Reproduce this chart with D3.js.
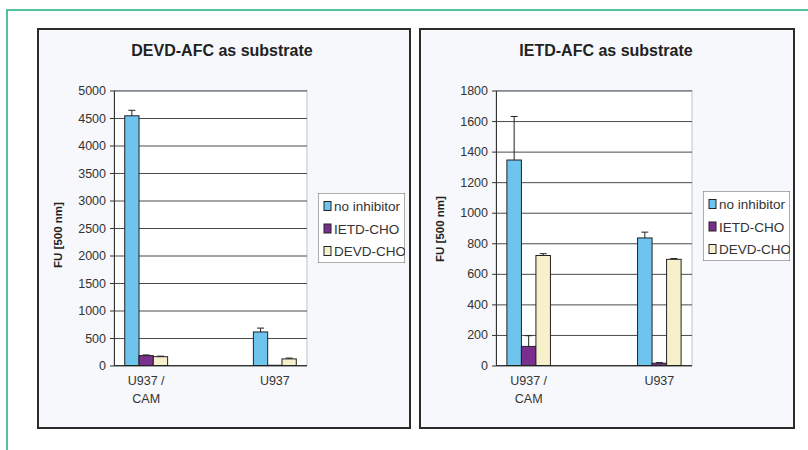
<!DOCTYPE html>
<html>
<head>
<meta charset="utf-8">
<script src="https://cdn.jsdelivr.net/npm/d3@7"></script>
<style>
  body { margin: 0; background: #fff; }
  svg { display: block; font-family: "Liberation Sans", Arial, sans-serif; }
</style>
</head>
<body>
<div id="chart"></div>
<script>
const categories = ["U937 / CAM", "U937"];
const seriesNames = ["no inhibitor", "IETD-CHO", "DEVD-CHO"];
const seriesColors = ["#6ec4ec", "#7a2e8e", "#f6f1cb"];

// DEVD-AFC panel, one row per series, one value per category
const devdValues = [[4540, 610], [180, 4], [160, 120]];
const devdErrors = [[100, 70], [12, 0], [10, 15]];
const devdTicks = [0, 500, 1000, 1500, 2000, 2500, 3000, 3500, 4000, 4500, 5000];

// IETD-AFC panel
const ietdValues = [[1345, 835], [125, 15], [720, 695]];
const ietdErrors = [[285, 38], [70, 4], [12, 5]];
const ietdTicks = [0, 200, 400, 600, 800, 1000, 1200, 1400, 1600, 1800];

const svg = d3.select("#chart").append("svg")
    .attr("width", 808)
    .attr("height", 450);

// green frame of the figure
svg.append("path")
    .attr("d", "M7,450 L7,10 L808,10")
    .attr("fill", "none")
    .attr("stroke", "#1fae7c")
    .attr("stroke-width", 1.5);

function drawPanel(opt) {
    const g = svg.append("g");

    // panel box
    g.append("rect")
        .attr("x", opt.box[0]).attr("y", opt.box[1])
        .attr("width", opt.box[2]).attr("height", opt.box[3])
        .attr("fill", "#f7f8fb")
        .attr("stroke", "#2b2b2b")
        .attr("stroke-width", 2);

    g.append("text")
        .attr("x", opt.titleX).attr("y", 56)
        .attr("text-anchor", "middle")
        .attr("font-size", 16)
        .attr("font-weight", "bold")
        .attr("fill", "#222")
        .text(opt.title);

    const left = opt.plot[0], right = opt.plot[1];
    const top = 90.5, bottom = 365.5;

    const y = d3.scaleLinear()
        .domain([0, opt.ticks[opt.ticks.length - 1]])
        .range([bottom, top]);

    const x = d3.scalePoint()
        .domain(categories)
        .range([left, right])
        .padding(0.25);

    const groupWidth = x.step() / 3;
    const x1 = d3.scaleBand()
        .domain(seriesNames)
        .range([-groupWidth / 2, groupWidth / 2]);

    // plot area
    g.append("rect")
        .attr("x", left).attr("y", top)
        .attr("width", right - left).attr("height", bottom - top)
        .attr("fill", "#fff")
        .attr("stroke", "#b7c6d2")
        .attr("stroke-width", 1);

    // gridlines
    g.append("g")
        .attr("transform", `translate(${left},0)`)
        .call(d3.axisLeft(y).tickValues(opt.ticks).tickSize(-(right - left)).tickFormat(""))
        .call(s => s.select(".domain").remove())
        .selectAll("line")
        .attr("stroke", "#4a4a4a")
        .attr("stroke-width", 1);

    // y axis
    const yAxis = g.append("g")
        .attr("transform", `translate(${left},0)`)
        .call(d3.axisLeft(y).tickValues(opt.ticks).tickFormat(d3.format("d"))
            .tickSize(4).tickPadding(4).tickSizeOuter(0));
    yAxis.select(".domain").attr("stroke", "#333");
    yAxis.selectAll(".tick line").attr("stroke", "#333");
    yAxis.selectAll("text")
        .attr("font-size", 12.5)
        .attr("fill", "#333")
        .attr("font-family", "Liberation Sans, Arial, sans-serif");

    // x axis line
    g.append("line")
        .attr("x1", left).attr("x2", right)
        .attr("y1", bottom).attr("y2", bottom)
        .attr("stroke", "#333");

    // y axis title
    g.append("text")
        .attr("transform", `translate(${opt.yLabelX},${opt.yLabelY}) rotate(-90)`)
        .attr("text-anchor", "middle")
        .attr("font-size", 11.5)
        .attr("font-weight", "bold")
        .attr("fill", "#222")
        .text("FU [500 nm]");

    // category labels
    categories.forEach(c => {
        const lines = c.split(" / ");
        const t = g.append("text")
            .attr("text-anchor", "middle")
            .attr("font-size", 12.5)
            .attr("fill", "#333");
        lines.forEach((ln, i) => {
            t.append("tspan")
                .attr("x", x(c))
                .attr("y", 385 + i * 18)
                .text(i < lines.length - 1 ? ln + " /" : ln);
        });
    });

    // bars
    seriesNames.forEach((s, si) => {
        categories.forEach((c, ci) => {
            const v = opt.values[si][ci];
            const e = opt.errors[si][ci];
            const bx = x(c) + x1(s);
            g.append("rect")
                .attr("x", bx)
                .attr("y", y(v))
                .attr("width", x1.bandwidth())
                .attr("height", bottom - y(v))
                .attr("fill", seriesColors[si])
                .attr("stroke", "#222")
                .attr("stroke-width", 1);
            if (e > 0) {
                const cx = bx + x1.bandwidth() / 2;
                g.append("line")
                    .attr("x1", cx).attr("x2", cx)
                    .attr("y1", y(v)).attr("y2", y(v + e))
                    .attr("stroke", "#222");
                g.append("line")
                    .attr("x1", cx - 3.5).attr("x2", cx + 3.5)
                    .attr("y1", y(v + e)).attr("y2", y(v + e))
                    .attr("stroke", "#222");
            }
        });
    });

    // legend
    const lg = opt.legend;
    const clipId = "clip-" + opt.id;
    svg.append("clipPath").attr("id", clipId)
        .append("rect")
        .attr("x", lg[0]).attr("y", lg[1]).attr("width", lg[2]).attr("height", lg[3]);
    const legend = g.append("g").attr("clip-path", `url(#${clipId})`);
    legend.append("rect")
        .attr("x", lg[0]).attr("y", lg[1]).attr("width", lg[2]).attr("height", lg[3])
        .attr("fill", "#fff")
        .attr("stroke", "#777")
        .attr("stroke-width", 1.2);
    seriesNames.forEach((s, i) => {
        const iy = lg[1] + 13 + i * 22.5;
        legend.append("rect")
            .attr("x", lg[0] + 6).attr("y", iy - 4.5)
            .attr("width", 7).attr("height", 9)
            .attr("fill", seriesColors[i])
            .attr("stroke", "#222");
        legend.append("text")
            .attr("x", lg[0] + 16).attr("y", iy + 5)
            .attr("font-size", 13.5)
            .attr("fill", "#333")
            .text(s);
    });
}

drawPanel({
    id: "devd",
    box: [38, 29, 372, 399],
    title: "DEVD-AFC as substrate",
    titleX: 222,
    plot: [114, 307],
    ticks: devdTicks,
    values: devdValues,
    errors: devdErrors,
    yLabelX: 62,
    yLabelY: 235,
    legend: [318, 193, 87, 70]
});

drawPanel({
    id: "ietd",
    box: [420, 29, 374, 399],
    title: "IETD-AFC as substrate",
    titleX: 606,
    plot: [496, 692],
    ticks: ietdTicks,
    values: ietdValues,
    errors: ietdErrors,
    yLabelX: 444,
    yLabelY: 229,
    legend: [703, 191, 87, 70]
});
</script>
</body>
</html>
